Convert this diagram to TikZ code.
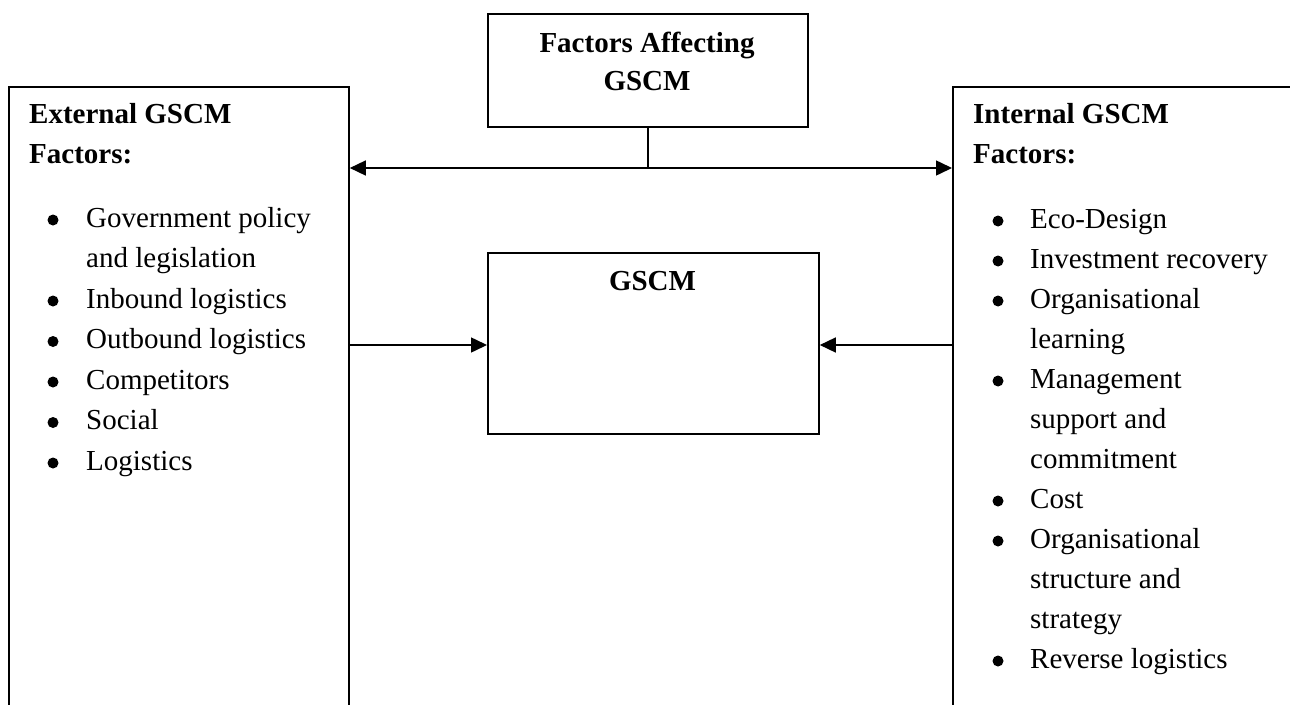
\documentclass[tikz,border=0pt]{standalone}
\usepackage{fontspec}
\setmainfont{Liberation Serif}
\usetikzlibrary{arrows.meta}
\begin{document}
\begin{tikzpicture}[x=1pt,y=-1pt,
  box/.style={draw, line width=1.8pt, inner sep=0pt, fill=white},
  conn/.style={line width=1.5pt},
  tip/.style={-{Triangle[length=16pt,width=15pt]}},
  lbl/.style={anchor=base west, inner sep=0pt, font=\fontsize{29}{35}\selectfont},
  hdr/.style={lbl, font=\fontsize{29}{35}\selectfont\bfseries},
  ttl/.style={anchor=base, inner sep=0pt, font=\fontsize{29}{35}\selectfont\bfseries},
  bul/.style={fill=black}]
\useasboundingbox (0,0) rectangle (1290,704);
\clip (0,0) rectangle (1290,704);
\fill[white] (0,0) rectangle (1290,704);

% boxes
\node[box, anchor=north west, minimum width=340pt, minimum height=700pt] (ext) at (8,86) {};
\node[box, anchor=north west, minimum width=400pt, minimum height=700pt] (int) at (952,86) {};
\node[box, anchor=north west, minimum width=320pt, minimum height=113pt] (top) at (487,13) {};
\node[box, anchor=north west, minimum width=331pt, minimum height=181pt] (gscm) at (487,252) {};

% titles
\node[ttl] (t1) at (647,52) {Factors Affecting};
\node[ttl] (t2) at (647,90) {GSCM};
\node[ttl] (g1) at (652.5,290) {GSCM};

% connectors
\coordinate (j) at (top.south |- 0,168);
\draw[conn] (top.south) -- (j);
\draw[conn, {Triangle[length=16pt,width=15pt]}-{Triangle[length=16pt,width=15pt]}] (ext.east |- j) -- (int.west |- j);
\draw[conn, tip] (ext.east |- 0,345) -- (gscm.west |- 0,345);
\draw[conn, tip] (int.west |- 0,345) -- (gscm.east |- 0,345);

% external
\node[hdr] (eh1) at (29,123) {External GSCM};
\node[hdr] (eh2) at (29,163) {Factors:};
\node[lbl] (e1) at (86,227) {Government policy};
\node[lbl] (e1b) at (86,267.5) {and legislation};
\node[lbl] (e2) at (86,308) {Inbound logistics};
\node[lbl] (e3) at (86,348.5) {Outbound logistics};
\node[lbl] (e4) at (86,389) {Competitors};
\node[lbl] (e5) at (86,429.5) {Social};
\node[lbl] (e6) at (86,470) {Logistics};
\foreach \yy in {227,308,348.5,389,429.5,470}
  \fill[bul] (53,\yy-7) circle (5.5pt);

% internal
\node[hdr] (ih1) at (973,123) {Internal GSCM};
\node[hdr] (ih2) at (973,163) {Factors:};
\node[lbl] (i1) at (1030,228) {Eco-Design};
\node[lbl] (i2) at (1030,268) {Investment recovery};
\node[lbl] (i3) at (1030,308) {Organisational};
\node[lbl] (i3b) at (1030,348) {learning};
\node[lbl] (i4) at (1030,388) {Management};
\node[lbl] (i4b) at (1030,428) {support and};
\node[lbl] (i4c) at (1030,468) {commitment};
\node[lbl] (i5) at (1030,508) {Cost};
\node[lbl] (i6) at (1030,548) {Organisational};
\node[lbl] (i6b) at (1030,588) {structure and};
\node[lbl] (i6c) at (1030,628) {strategy};
\node[lbl] (i7) at (1030,668) {Reverse logistics};
\foreach \yy in {228,268,308,388,508,548,668}
  \fill[bul] (998,\yy-7) circle (5.5pt);
\end{tikzpicture}
\end{document}
